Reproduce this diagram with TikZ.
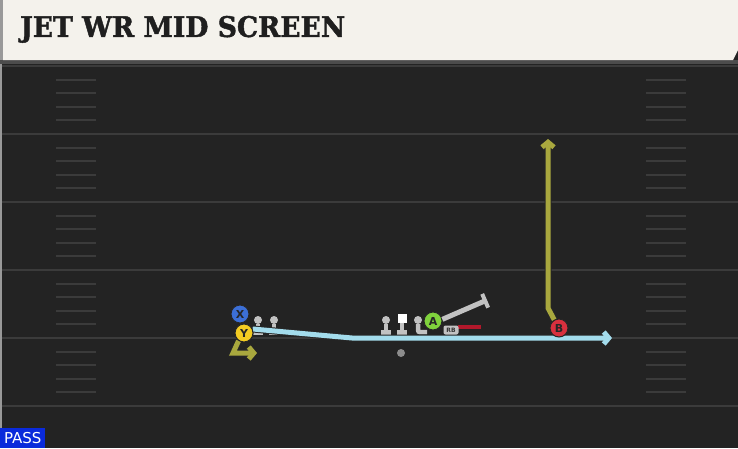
\documentclass[tikz,border=0pt]{standalone}
\usepackage{fontspec}
\setsansfont{DejaVu Sans}
\newfontfamily\titlefont{DejaVu Serif}[BoldFeatures={FakeBold=1.6}]
\usetikzlibrary{arrows.meta}
\definecolor{field}{HTML}{232323}
\definecolor{yardline}{HTML}{3B3B3B}
\definecolor{banner}{HTML}{F4F2EC}
\definecolor{skyroute}{HTML}{A3DCEC}
\definecolor{oliveroute}{HTML}{A9A83E}
\definecolor{xblue}{HTML}{3C6FD6}
\definecolor{yyellow}{HTML}{F3CB22}
\definecolor{agreen}{HTML}{7FD23C}
\definecolor{bred}{HTML}{D8303E}
\definecolor{olgray}{HTML}{C2C2C2}
\definecolor{rbred}{HTML}{B2182B}
\definecolor{passblue}{HTML}{0A2ADB}
\begin{document}
\begin{tikzpicture}[x=1pt,y=-1pt,
	player/.style={circle, draw=black!85, line width=1pt, minimum size=18pt, inner sep=0pt, text=black!85, font=\sffamily\bfseries\fontsize{11}{11}\selectfont},
	route/.style={line width=5pt, draw=#1, preaction={draw=black!85, line width=7pt}, -{Straight Barb[length=5pt,width=12pt]}},
	head/.style={circle, fill=olgray, minimum size=8pt, inner sep=0pt},
	hash/.style={draw=yardline, line width=2pt}]
	\useasboundingbox (0,0) rectangle (738,448);
	\fill[field] (0,0) rectangle (738,448);
	\fill[black!40] (0,0) rectangle (2,448);
	\foreach \y in {66,134,202,270,338,406} {
		\draw[yardline, line width=2.5pt] (2,\y) -- (738,\y);
	}
	\foreach \y in {66,134,202,270,338} {
		\foreach \k in {1,2,3,4} {
			\draw[hash] (56,\y+13.6*\k) -- (96,\y+13.6*\k);
			\draw[hash] (646,\y+13.6*\k) -- (686,\y+13.6*\k);
		}
	}
	\fill[black!70] (0,60) rectangle (738,64);
	\fill[banner] (3,0) -- (738,0) -- (738,50) -- (733,60) -- (3,60) -- cycle;
	\fill[black!40] (0,0) rectangle (3,60);
	\node (title) at (20,43)	[anchor=south west, inner sep=0pt, text=black!88]	{\resizebox{325pt}{21pt}{\titlefont\bfseries JET WR MID SCREEN}};
	\node (pass) at (0,448)	[anchor=south west, fill=passblue, minimum width=45pt, minimum height=20pt, inner sep=0pt, text=white, font=\sffamily\fontsize{15}{15}\selectfont]	{PASS};

	\node (ball) at (401,353)	[circle, fill=black!45, minimum size=8pt, inner sep=0pt]	{};
	\foreach \i/\x in {1/258,2/274,3/386} {
		\node (L\i) at (\x,320)	[head]	{};
		\draw[olgray, line width=4pt] (L\i.south) -- ++(0,11);
		\fill[olgray] (\x-5,330) rectangle (\x+5,335);
	}
	\node (C) at (402,318)	[fill=white, minimum size=9pt, inner sep=0pt]	{};
	\draw[olgray, line width=4pt] (C.south) -- ++(0,11);
	\fill[olgray] (397,330) rectangle (407,335);
	\node (L4) at (418,320)	[head]	{};
	\draw[olgray, line width=4.5pt, rounded corners=2pt] (L4.south) -- ++(0,8) -- ++(9,0);

	\coordinate (bend) at (352,338);
	\coordinate (screenEnd) at (612,338);
	\coordinate (yDown) at (233,353);
	\coordinate (yEnd) at (257,353);
	\coordinate (bStem) at (548,308);
	\coordinate (bEnd) at (548,139);
	\coordinate (blockEnd) at (487,300);

	\node (X) at (240,314)	[player, fill=xblue]	{X};
	\node (Y) at (244,333)	[player, fill=yyellow]	{Y};
	\node (A) at (433,321)	[player, fill=agreen]	{A};
	\node (B) at (559,328)	[player, fill=bred]	{B};

	\draw[route=skyroute] (Y.25) -- (bend) -- (screenEnd);
	\draw[route=oliveroute] (Y.235) -- (yDown) -- (yEnd);
	\draw[route=oliveroute] (B.120) -- (bStem) -- (bEnd);
	\node (B) at (559,328)	[player, fill=bred]	{B};
	\node (Y) at (244,333)	[player, fill=yyellow]	{Y};

	\draw[olgray, line width=5pt, -{Bar[width=15pt, line width=4pt]}] (A.10) -- (blockEnd);
	\draw[rbred, line width=4pt] (458,327) -- (481,327);
	\node (RB) at (451,330)	[fill=olgray, rounded corners=2pt, minimum width=15pt, minimum height=9pt, inner sep=0.5pt, font=\sffamily\bfseries\fontsize{6}{6}\selectfont, text=black!80]	{RB};
\end{tikzpicture}
\end{document}
